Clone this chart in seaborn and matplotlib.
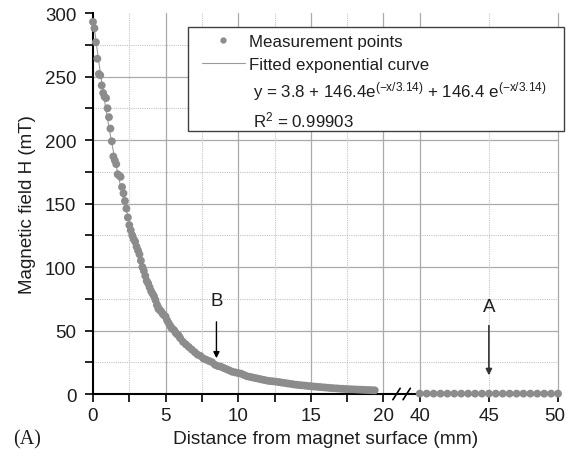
import numpy as np
import pandas as pd
import matplotlib
matplotlib.use('Agg')
import matplotlib.pyplot as plt
import matplotlib.transforms as mtransforms
from matplotlib.lines import Line2D
from matplotlib.patches import Rectangle
import seaborn as sns

# ── DATA ─────────────────────────────────────────────────────
# measurement points close to the magnet (mm, mT)
dist_near = [0.0, 0.1, 0.2, 0.3, 0.4, 0.5, 0.6, 0.7, 0.8, 0.9,
             1.0, 1.1, 1.2, 1.3, 1.4, 1.5, 1.6, 1.7, 1.8, 1.9,
             2.0, 2.1, 2.2, 2.3, 2.4, 2.5, 2.6, 2.7, 2.8, 2.9,
             3.0, 3.1, 3.2, 3.3, 3.4, 3.5, 3.6, 3.7, 3.8, 3.9,
             4.0, 4.1, 4.2, 4.3, 4.4, 4.5, 4.6, 4.7, 4.8, 4.9,
             5.0, 5.1, 5.2, 5.3, 5.4, 5.5, 5.6, 5.7, 5.8, 5.9,
             6.0, 6.2, 6.4, 6.6, 6.8, 7.0, 7.2, 7.4, 7.6, 7.8,
             8.0, 8.2, 8.4, 8.6, 8.8, 9.0, 9.2, 9.4, 9.6, 9.8,
             10.0, 10.2, 10.4, 10.6, 10.8, 11.0, 11.2, 11.4, 11.6, 11.8,
             12.0, 12.2, 12.4, 12.6, 12.8, 13.0, 13.2, 13.4, 13.6, 13.8,
             14.0, 14.2, 14.4, 14.6, 14.8, 15.0, 15.2, 15.4, 15.6, 15.8,
             16.0, 16.2, 16.4, 16.6, 16.8, 17.0, 17.2, 17.4, 17.6, 17.8,
             18.0, 18.2, 18.4, 18.6, 18.8, 19.0, 19.2, 19.4]
field_near = [293, 288, 277, 264, 252, 251, 243, 237, 234, 233,
              225, 218, 209, 199, 187, 184, 181, 173, 172, 171,
              163, 158, 152, 146, 139, 133, 129, 125, 122, 120,
              116, 113, 110, 105, 100, 97, 93, 89, 87, 84,
              81, 79, 77, 74, 70, 67, 66, 65, 63, 62,
              61, 58, 56, 54, 52, 51, 50, 48, 47, 46,
              44, 41, 39, 37, 35, 33, 31, 30, 28, 27,
              26, 25, 23, 22, 21.5, 20.5, 19.5, 18.5, 17.5, 17,
              16.5, 16, 15, 14, 13.5, 13, 12.5, 12, 11.5, 11,
              10.5, 10.2, 10, 9.7, 9.4, 9, 8.7, 8.3, 8, 7.6,
              7.3, 7, 6.8, 6.6, 6.3, 6.1, 5.9, 5.7, 5.5, 5.3,
              5.1, 4.9, 4.7, 4.5, 4.4, 4.2, 4.1, 3.9, 3.8, 3.7,
              3.6, 3.5, 3.4, 3.3, 3.2, 3.1, 3.0, 2.9]

# measurement points far from the magnet (after the axis break)
dist_far = [40.0, 40.5, 41.0, 41.5, 42.0, 42.5, 43.0, 43.5, 44.0, 44.5, 45.0,
            45.5, 46.0, 46.5, 47.0, 47.5, 48.0, 48.5, 49.0, 49.5, 50.0]
field_far = [0.3, 0.3, 0.3, 0.3, 0.3, 0.3, 0.3, 0.3, 0.3, 0.3, 0.3,
             0.3, 0.3, 0.3, 0.3, 0.3, 0.3, 0.3, 0.3, 0.3, 0.3]

# fitted parameters quoted in the legend
fit_y0, fit_a1, fit_t1, fit_a2, fit_t2 = 3.8, 146.4, 3.14, 146.4, 3.14
fit_r2 = 0.99903

x_ticks = [0, 5, 10, 15, 20, 40, 45, 50]
x_minor = [2.5, 7.5, 12.5, 17.5]
y_ticks = [0, 50, 100, 150, 200, 250, 300]
y_minor = [25, 75, 125, 175, 225, 275]

# ── BROKEN AXIS MAPPING ──────────────────────────────────────
BREAK_LO, BREAK_HI = 20, 40
GAP = 2.5
FAR_SCALE = 0.952


def to_axis(x):
    x = np.asarray(x, dtype=float)
    return np.where(x <= BREAK_LO, x, BREAK_LO + GAP + (x - BREAK_HI) * FAR_SCALE)


df = pd.DataFrame({'dist': dist_near + dist_far, 'field': field_near + field_far})
df['xpos'] = to_axis(df['dist'])

near = pd.DataFrame({'dist': dist_near})
near['xpos'] = to_axis(near['dist'])
near['fit'] = (fit_y0 + fit_a1 * np.exp(-near['dist'] / fit_t1)
               + fit_a2 * np.exp(-near['dist'] / fit_t2))

# ── STYLE ────────────────────────────────────────────────────
sns.set_theme(style='white')
plt.rcParams['font.family'] = ['Liberation Sans', 'DejaVu Sans']
plt.rcParams['mathtext.fontset'] = 'custom'
plt.rcParams['mathtext.rm'] = 'Liberation Sans'
plt.rcParams['mathtext.it'] = 'Liberation Sans:italic'
plt.rcParams['mathtext.bf'] = 'Liberation Sans:bold'

pt_color = '#8c8c8c'
fit_color = '#9a9a9a'
grid_solid = '#aaaaaa'
grid_dot = '#c4c4c4'
txt_color = '#1e1e1e'

fig = plt.figure(figsize=(5.66, 4.64), dpi=100)
ax = fig.add_axes([0.1643, 0.1487, 0.8216, 0.8211])

x_max = float(to_axis(50))
ax.set_xlim(0, x_max)
ax.set_ylim(0, 300)

# grid
for y in y_ticks[1:-1]:
    ax.axhline(y, color=grid_solid, lw=0.9, zorder=0)
for y in y_minor:
    ax.axhline(y, color=grid_dot, lw=0.8, ls=(0, (1, 1)), zorder=0)
for x in to_axis([5, 10, 15, 20, 40, 50]):
    ax.axvline(x, color=grid_solid, lw=0.9, zorder=0, clip_on=False)
for x in to_axis(x_minor + [45]):
    ax.axvline(x, color=grid_dot, lw=0.8, ls=(0, (1, 1)), zorder=0)

# data
sns.lineplot(data=near, x='xpos', y='fit', color=fit_color, lw=0.8,
             estimator=None, sort=False, ax=ax, zorder=2)
sns.scatterplot(data=df, x='xpos', y='field', s=32, color=pt_color,
                edgecolor='none', ax=ax, zorder=3, clip_on=False)

# axes
sns.despine(ax=ax)
for s in ['left', 'bottom']:
    ax.spines[s].set_color('black')
    ax.spines[s].set_linewidth(1.5)
ax.set_xticks(to_axis(x_ticks))
ax.set_xticklabels([str(t) for t in x_ticks])
ax.set_xticks(to_axis(x_minor), minor=True)
ax.set_yticks(y_ticks)
ax.set_yticks(y_minor, minor=True)
ax.tick_params(which='both', direction='out', length=6, width=1.2,
               color='black', labelsize=13.5, labelcolor=txt_color,
               bottom=True, left=True)
ax.tick_params(axis='y', pad=6)
ax.tick_params(axis='x', pad=3)
# last tick label sits on the figure edge, nudge it inside
last = ax.get_xticklabels()[-1]
last.set_transform(last.get_transform() +
                   mtransforms.ScaledTranslation(-3 / 100, 0, fig.dpi_scale_trans))

# break marks on x axis
mid = BREAK_LO + GAP / 2
for c in [mid - 0.35, mid + 0.35]:
    ax.plot([c - 0.25, c + 0.25], [-4.5, 4.5], color='black', lw=1.2,
            clip_on=False, zorder=5)

ax.set_xlabel('Distance from magnet surface (mm)', fontsize=13.8, labelpad=5,
              color=txt_color)
ax.set_ylabel('Magnetic field H (mT)', fontsize=13.5, labelpad=6, color=txt_color)
fig.text(0.047, 0.052, '(A)', fontsize=14.5, family=['Liberation Serif'],
         ha='center', va='center', color=txt_color)

# annotations
ax.annotate('', xy=(float(to_axis(8.5)), 26), xytext=(float(to_axis(8.5)), 59),
            arrowprops=dict(arrowstyle='-|>', color='black', lw=1, mutation_scale=9))
ax.text(float(to_axis(8.5)), 73.5, 'B', ha='center', va='center', fontsize=13.5,
        color=txt_color)
ax.annotate('', xy=(float(to_axis(45)), 12.5), xytext=(float(to_axis(45)), 56),
            arrowprops=dict(arrowstyle='-|>', color='#333333', lw=1.2, mutation_scale=9))
ax.text(float(to_axis(45)), 69, 'A', ha='center', va='center', fontsize=13.5,
        color=txt_color)

# legend box
ax.add_patch(Rectangle((0.204, 0.690), 0.809, 0.273, transform=ax.transAxes,
                       facecolor='white', edgecolor='#404040', lw=1.0,
                       clip_on=False, zorder=6))
handles = [Line2D([], [], marker='o', ls='none', color=pt_color, markersize=3.5),
           Line2D([], [], color=fit_color, lw=0.8)]
leg = ax.legend(handles, ['Measurement points', 'Fitted exponential curve'],
                loc='upper left', bbox_to_anchor=(0.234, 0.946), fontsize=12.2,
                handlelength=2.55, handletextpad=0.25, borderpad=0,
                labelspacing=0.48, borderaxespad=0, frameon=False)
leg.set_zorder(7)
for t in leg.get_texts():
    t.set_color(txt_color)

eq = (f'y = {fit_y0} + {fit_a1}e$^{{\\mathrm{{(-x/{fit_t1})}}}}$'
      f' + {fit_a2} e$^{{\\mathrm{{(-x/{fit_t2})}}}}$')
r2 = f'R$^{{\\mathrm{{2}}}}$ = {fit_r2}'
ax.text(0.344, 0.782, eq, transform=ax.transAxes, fontsize=12.2, va='baseline',
        ha='left', color=txt_color, zorder=7)
ax.text(0.344, 0.7026, r2, transform=ax.transAxes, fontsize=12.2, va='baseline',
        ha='left', color=txt_color, zorder=7)

plt.savefig('out.png', dpi=100)
